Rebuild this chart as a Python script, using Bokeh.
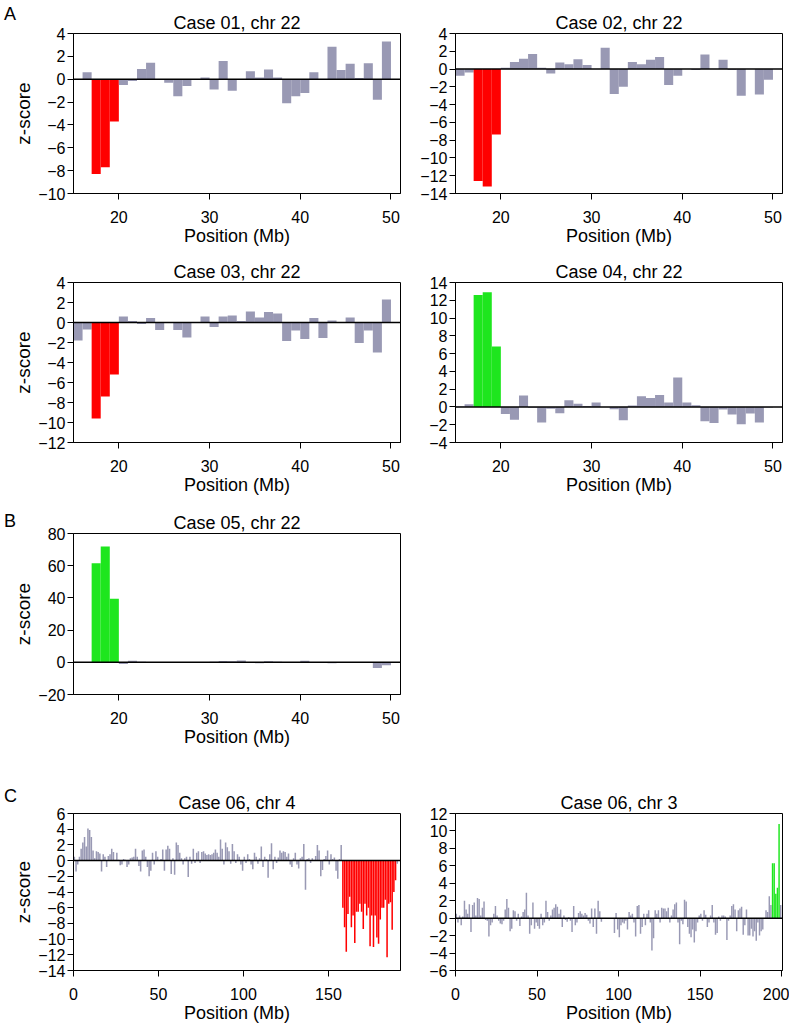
from bokeh.plotting import figure
from bokeh.models import Span, FixedTicker, Range1d, Div
from bokeh.layouts import column, row
from bokeh.embed import file_html
from bokeh.resources import INLINE

FONT = "Liberation Sans"
GRAY = "#9999b4"
RED = "#ff0000"
GREEN = "#1ee61e"

# ---------------- data ----------------
chr22_bins = list(range(15, 50))          # 1-Mb bin starts (Mb)
chr22_hl = [17, 18, 19]                   # aberrant bins

case01 = [0.0, 0.6, -8.3, -7.7, -3.7, -0.5, -0.15, 0.9, 1.45, 0.0, -0.3, -1.5, -0.6, 0.0,
          0.15, -0.9, 1.6, -1.0, 0.0, 0.7, 0.15, 0.85, 0.15, -2.1, -1.5, -1.2, 0.6, -0.05,
          2.85, 0.8, 1.35, 0.1, 1.4, -1.8, 3.3]
case02 = [-0.75, -0.4, -12.6, -13.2, -7.35, 0.15, 0.8, 1.15, 1.7, 0.15, -0.5, 0.75, 0.55, 1.1,
          0.45, 0.0, 2.4, -2.8, -2.0, 0.8, 0.55, 1.05, 1.35, -1.8, -0.75, 0.0, -0.1, 1.65,
          0.0, 1.05, -0.1, -3.0, 0.0, -2.85, -1.2]
case03 = [-1.8, -0.7, -9.6, -7.4, -5.2, 0.6, 0.15, -0.15, 0.45, -0.75, 0.05, -0.75, -1.5, 0.0,
          0.6, -0.45, 0.6, 0.7, 0.15, 1.1, 0.5, 1.05, 0.9, -1.85, -0.8, -1.65, 0.45, -1.55,
          0.2, 0.05, 0.5, -2.05, -0.8, -3.0, 2.3]
case04 = [0.05, 0.3, 12.6, 12.9, 6.8, -0.8, -1.45, 1.3, -0.1, -1.75, -0.2, -0.7, 0.75, 0.35,
          0.1, 0.5, 0.0, -0.25, -1.5, 0.15, 1.2, 1.0, 1.35, 0.5, 3.3, 0.5, 0.2, -1.6,
          -1.8, -0.3, -0.85, -1.95, -0.75, -1.75, -0.05]
case05 = [-0.5, 0.0, 61.5, 72.0, 39.5, -1.0, 1.0, 0.3, 0.2, 0.2, 0.1, 0.1, 0.0, -0.5,
          -0.5, 0.3, 0.8, 0.7, 1.1, 0.2, -0.6, 0.6, 0.3, 0.1, 0.2, 1.0, -0.5, 0.1,
          -0.6, 0.0, 0.1, 0.1, 0.0, -3.5, -1.8]

chr4_vals = [
    0.5, -1.4, -0.5, 0.5, 1.5, 2.3, 3.0, 1.8, 4.1, 3.9,
    3.0, 1.3, 0.3, 1.2, 1.1, 0.9, -1.4, 0.8, 0.5, -0.8,
    0.6, 0.8, 1.5, 1.1, 0.1, 1.0, 0.1, -0.6, -0.5, 0.2,
    0.1, -0.8, -0.5, 0.3, 0.4, 0.5, 1.5, 0.5, -0.7, -1.4,
    1.3, 1.4, 0.5, -0.8, -2.0, -1.3, 1.0, -0.5, 1.2, 0.5,
    0.0, 0.2, 1.4, -1.3, 1.4, 1.9, 1.5, -1.7, 0.3, -1.8,
    2.3, 2.0, 1.0, 0.3, -0.5, 0.3, 0.5, -2.1, 0.5, -0.4,
    1.5, -0.3, 1.0, 1.2, -0.3, 1.1, 1.2, 0.9, 0.7, 0.8,
    0.7, 0.8, 1.0, 1.4, 1.0, 0.5, 2.7, 1.5, -0.5, 2.3,
    1.7, 1.2, -0.4, 2.1, 1.2, -0.3, 0.8, 0.5, -0.5, -1.3,
    0.5, -0.3, 0.8, 0.2, -0.5, -1.1, 1.0, 0.5, -0.4, 0.3,
    1.8, -0.8, 0.5, 0.2, -2.2, 0.8, 2.2, -1.1, 0.5, -0.3,
    0.4, 1.3, 1.0, 1.2, 1.1, 0.5, 0.9, -0.5, -0.8, 0.3,
    1.0, -0.5, -1.0, 0.3, 0.5, 2.1, -3.7, 0.2, 0.3, -0.3,
    0.3, 0.1, 0.6, 2.0, 1.3, -2.0, -1.2, 0.2, 0.6, 1.3,
    -0.5, 0.8, 0.2, 0.4, -1.3, -2.3, 0.2, 2.0,
    -6.0, -8.5, -11.6, -6.8, -4.6, -8.5, -7.0, -10.5, -6.5, -6.5,
    -5.5, -6.5, -8.7, -5.5, -7.0, -6.0, -10.9, -7.0, -11.0, -7.0,
    -9.8, -10.6, -7.5, -6.0, -6.0, -5.0, -12.3, -5.5, -5.3, -8.8,
    -4.0, -2.5,
    -0.4]
chr4_bins = list(range(0, len(chr4_vals)))
chr4_hl = list(range(158, 190))

chr3_vals = [
    0.5, -0.5, 0.3, -0.8, 0.2, 2.0, 1.0, 0.5, 1.6, -1.6,
    1.5, 1.8, 0.3, 2.3, 2.2, 0.3, 1.2, 1.9, -0.2, -0.3,
    -2.1, -0.8, -0.5, 0.5, 1.4, 0.3, -0.3, -0.6, -0.7, -0.3,
    1.0, 2.2, 1.2, -1.5, -1.2, 0.9, 0.8, -0.3, 0.5, -0.9,
    0.2, 0.7, 1.0, 2.9, 0.3, -1.8, -0.8, 1.8, -1.2, -0.5,
    -0.9, -1.2, 0.5, -0.8, -0.5, 2.0, 0.7, -0.3, 0.3, 1.0,
    1.2, 1.6, 1.3, 0.5, 1.0, -1.0, 0.3, -0.2, -0.4, 0.1,
    -0.3, -1.6, 1.4, -0.8, -0.5, 0.6, 0.8, 0.5, 0.3, 0.6,
    0.4, -0.3, -0.6, 1.1, -1.0, 1.1, -1.8, 2.0, 0.8, -0.4,
    0.0, 0.0, 0.0, 0.0, 0.0, 0.0, 0.0, -1.7, 0.6, -1.3,
    -2.2, -0.8, -0.5, -0.6, -0.3, -1.3, 0.7, 0.3, 0.5, -0.5,
    -2.1, 1.4, 1.5, -1.8, -1.0, 0.5, -0.8, 0.5, 0.9, -0.5,
    -3.7, -2.3, 0.9, 0.5, 0.9, -0.5, 1.2, 1.1, 1.1, 0.8,
    1.2, -0.5, 0.3, 1.0, 1.6, 1.8, -0.5, -3.0, -0.3, -0.7,
    2.1, 1.9, -1.0, -1.8, -2.2, -1.3, -2.8, -1.5, -0.5, 0.3,
    0.5, -0.3, 0.9, 0.4, -1.0, -0.5, 0.3, 1.5, -0.5, -1.9,
    -1.7, 0.2, -0.3, 0.3, 0.3, 0.2, -2.5, -0.3, 0.3, 1.4,
    1.6, 1.0, -1.5, 0.9, 1.1, 1.3, -1.9, -0.8, 1.0, -2.0,
    -2.0, -1.2, -2.1, -1.5, -2.6, -0.5, -2.0, -1.5, -1.3, 0.0,
    0.9, 0.7, 2.5, 1.5, 6.3, 6.3, 2.8, 3.5, 10.8, 1.5]
chr3_bins = list(range(0, len(chr3_vals)))
chr3_hl = [194, 195, 196, 197, 198]

chr22_xticks = [20, 30, 40, 50]
long_xticks = [0, 50, 100, 150, 200]

# ---------------- layout constants ----------------
LETTER_W = 9
LEFT_W, RIGHT_W = 402, 387


def panel(title, bins, vals, hl, hl_color, xr, yr, yticks, xticks, width, height,
          mb_l, mb_r, mb_t, mb_b, fill=1.0, ylabel=None):
    p = figure(width=width, height=height, output_backend="svg", toolbar_location=None,
               x_range=Range1d(*xr), y_range=Range1d(*yr),
               min_border_left=mb_l, min_border_right=mb_r,
               min_border_top=mb_t, min_border_bottom=mb_b)
    p.border_fill_color = None
    p.background_fill_color = "white"
    p.title.text = title
    p.title.text_font = FONT
    p.title.text_font_size = "18px"
    p.title.text_font_style = "normal"
    p.title.text_color = "black"
    p.title.align = "center"
    p.title.standoff = 1
    p.grid.visible = False
    p.outline_line_color = "black"
    p.outline_line_alpha = 1.0
    p.outline_line_width = 1
    pad = (1.0 - fill) / 2.0
    colors = [hl_color if b in hl else GRAY for b in bins]
    p.quad(left=[b + pad for b in bins], right=[b + 1 - pad for b in bins],
           bottom=[0] * len(bins), top=vals, fill_color=colors, line_color=None)
    p.add_layout(Span(location=0, dimension="width", line_color="black", line_width=1.5))
    for ax in (p.xaxis[0], p.yaxis[0]):
        ax.major_tick_out = 6
        ax.major_tick_in = 0
        ax.minor_tick_line_color = None
        ax.axis_line_color = "black"
        ax.major_tick_line_color = "black"
        ax.major_label_text_font = FONT
        ax.major_label_text_font_size = "16px"
        ax.major_label_text_color = "black"
        ax.axis_label_text_font = FONT
        ax.axis_label_text_font_style = "normal"
        ax.axis_label_text_color = "black"
    p.xaxis.ticker = FixedTicker(ticks=xticks)
    p.yaxis.ticker = FixedTicker(ticks=yticks)
    p.xaxis.major_label_standoff = 11
    p.yaxis.major_label_standoff = 2
    p.xaxis.axis_label = "Position (Mb)"
    p.xaxis.axis_label_text_font_size = "18px"
    p.xaxis.axis_label_standoff = 0
    if ylabel:
        p.yaxis.axis_label = ylabel
        p.yaxis.axis_label_text_font_size = "19px"
        p.yaxis.axis_label_standoff = 1
    return p


def letter(text, height, top_pad):
    html = ('<div style="margin-top:%dpx;margin-left:4px;font-family:\'Liberation Sans\';'
            'font-size:18px;line-height:18px;color:black;white-space:nowrap;'
            'overflow:visible;position:relative;z-index:5;">%s</div>') % (top_pad, text)
    return Div(text=html, width=LETTER_W, height=height, margin=0,
               styles={"overflow": "visible", "z-index": "5"})


p1 = panel("Case 01, chr 22", chr22_bins, case01, chr22_hl, RED, (15, 51.05), (-10, 4),
           list(range(-10, 5, 2)), chr22_xticks, LEFT_W - LETTER_W, 250, 73 - LETTER_W, 2, 33, 57,
           ylabel="z-score")
p2 = panel("Case 02, chr 22", chr22_bins, case02, chr22_hl, RED, (15, 51.05), (-14, 4),
           list(range(-14, 5, 2)), chr22_xticks, RIGHT_W, 250, 53, 7, 33, 57)
p3 = panel("Case 03, chr 22", chr22_bins, case03, chr22_hl, RED, (15, 51.05), (-12, 4),
           list(range(-12, 5, 2)), chr22_xticks, LEFT_W, 250, 73, 2, 32, 58,
           ylabel="z-score")
p4 = panel("Case 04, chr 22", chr22_bins, case04, chr22_hl, GREEN, (15, 51.05), (-4, 14),
           list(range(-4, 15, 2)), chr22_xticks, RIGHT_W, 250, 53, 7, 32, 58)
p5 = panel("Case 05, chr 22", chr22_bins, case05, chr22_hl, GREEN, (15, 51.05), (-20, 80),
           list(range(-20, 81, 20)), chr22_xticks, LEFT_W - LETTER_W, 260, 73 - LETTER_W, 2, 33, 66,
           ylabel="z-score")
p6 = panel("Case 06, chr 4", chr4_bins, chr4_vals, chr4_hl, RED, (0, 192.4), (-14, 6),
           list(range(-14, 7, 2)), long_xticks[:4], LEFT_W - LETTER_W, 265, 73 - LETTER_W, 2, 53, 52,
           fill=0.9, ylabel="z-score")
p7 = panel("Case 06, chr 3", chr3_bins, chr3_vals, chr3_hl, GREEN, (0, 200.6), (-6, 12),
           list(range(-6, 13, 2)), long_xticks, RIGHT_W, 265, 53, 7, 53, 52, fill=0.9)

layout = column(
    row(letter("A", 250, 5), p1, p2),
    row(p3, p4),
    row(letter("B", 260, 12), p5),
    row(letter("C", 265, 27), p6, p7),
)

with open("out.html", "w") as f:
    f.write(file_html(layout, INLINE))
